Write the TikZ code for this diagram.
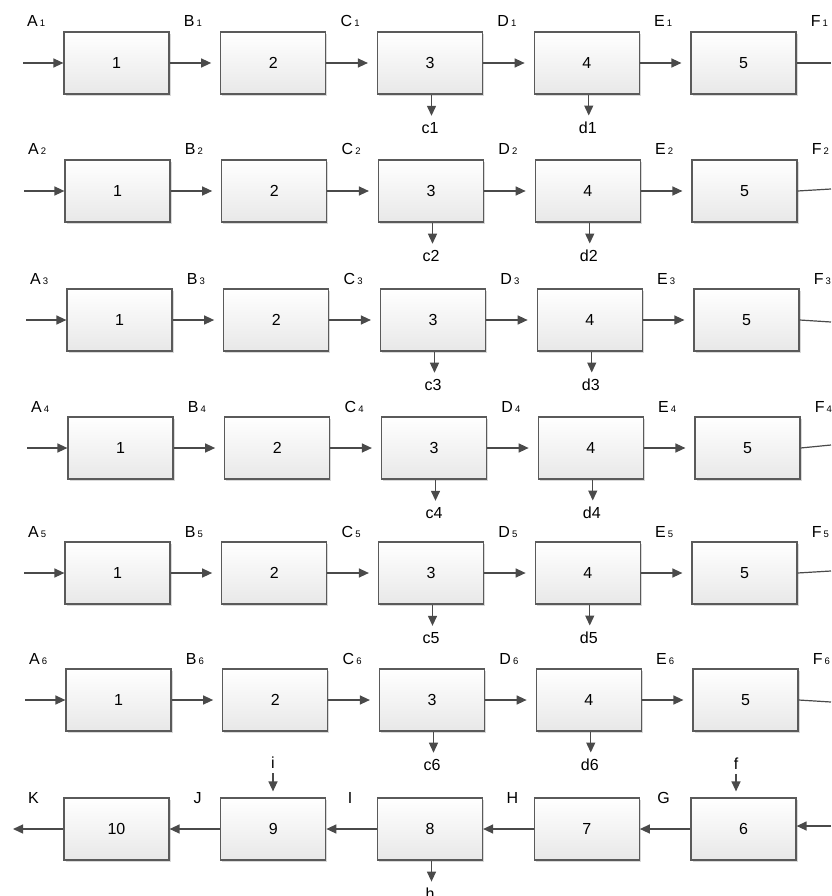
\documentclass[tikz,border=0pt]{standalone}
\usepackage{fontspec}
\setmainfont{Liberation Sans}
\usetikzlibrary{arrows.meta,shadows,calc}
\definecolor{edge}{HTML}{5A5A5A}
\definecolor{wire}{HTML}{4A4A4A}
\definecolor{boxbot}{HTML}{E8E8E8}
\tikzset{
  blk/.style={draw=edge, line width=1.2pt, rectangle, minimum width=105pt,
    minimum height=62pt, inner sep=0pt, top color=white, bottom color=boxbot,
    drop shadow={shadow xshift=1.6pt, shadow yshift=-1.6pt, fill=black, opacity=0.15},
    font=\fontsize{16}{19}\selectfont},
  arr/.style={draw=wire, line width=1.3pt, -{Triangle[length=10pt,width=9pt]}},
  wireln/.style={draw=wire, line width=1.2pt},
  lab/.style={inner sep=0pt, font=\fontsize{16}{19}\selectfont},
  subn/.style={font=\fontsize{9.5}{11}\selectfont}
}
\newcommand{\sbn}[1]{{\fontsize{9.5}{11}\selectfont #1}}
\begin{document}
\begin{tikzpicture}[x=1pt,y=-1pt]
\useasboundingbox (0,0) rectangle (831,896);
\fill[white] (0,0) rectangle (831,896);
\foreach \rw/\yy/\oo/\dy in {1/63/0/0,2/191/1/-2,3/320/3/2,4/448/4/-3,5/573/1/-2,6/700/2/2}{
  \foreach \k in {1,...,5}{
    \pgfmathsetmacro\cx{64+\oo+(\k-1)*156.75+52.5}
    \node[blk] (b\rw\k) at (\cx,\yy) {\k};
  }
  \foreach \k/\L in {0/A,1/B,2/C,3/D,4/E,5/F}{
    \pgfmathsetmacro\lx{64+\oo+\k*156.75-37}
    \node[lab, anchor=base west] (l\rw\L) at (\lx,\yy-36) {\L\hspace{2pt}\sbn{\rw}};
  }
  \coordinate (in\rw) at (23+\oo,\yy);
  \draw[arr] (in\rw) -- (b\rw1.west);
  \draw[arr, shorten >=9pt] (b\rw1.east) -- (b\rw2.west);
  \draw[arr, shorten >=9pt] (b\rw2.east) -- (b\rw3.west);
  \draw[arr, shorten >=9pt] (b\rw3.east) -- (b\rw4.west);
  \draw[arr, shorten >=9pt] (b\rw4.east) -- (b\rw5.west);
  \coordinate (out\rw) at (831,\yy+\dy);
  \draw[wireln] (b\rw5.east) -- (out\rw);
  \node[lab] (c\rw) at ($(b\rw3.south)+(0,33)$) {c\rw};
  \node[lab] (d\rw) at ($(b\rw4.south)+(1,33)$) {d\rw};
  \draw[arr, shorten >=6pt] ([xshift=1.5pt]b\rw3.south) -- ([xshift=1.5pt]b\rw3.south |- c\rw.north);
  \draw[arr, shorten >=6pt] ([xshift=2pt]b\rw4.south) -- ([xshift=2pt]b\rw4.south |- d\rw.north);
}
% bottom row
\foreach \k/\t in {1/10,2/9,3/8,4/7,5/6}{
  \pgfmathsetmacro\cx{64+(\k-1)*156.75+52.5}
  \node[blk] (n\t) at (\cx,829) {\t};
}
\draw[arr] (n6.west) -- (n7.east);
\draw[arr] (n7.west) -- (n8.east);
\draw[arr] (n8.west) -- (n9.east);
\draw[arr] (n9.west) -- (n10.east);
\coordinate (inR) at (831,826);
\draw[arr] (inR) -- (inR -| n6.east);
\coordinate (outK) at (13,829);
\draw[arr] (n10.west) -- (outK);
\node[lab] (K) at (33.5,798) {K};
\node[lab] (J) at (197.5,798) {J};
\node[lab] (I) at (350,798) {I};
\node[lab] (H) at (512.5,798) {H};
\node[lab] (G) at (663.5,798) {G};
\node[lab] (i) at (273,763) {i};
\node[lab] (f) at (736,764) {f};
\draw[arr, shorten <=4pt, shorten >=6pt] (i.south) -- (i.south |- n9.north);
\draw[arr, shorten <=4pt, shorten >=6pt] (f.south) -- (f.south |- n6.north);
\node[lab] (h) at ($(n8.south)+(0,33)$) {h};
\draw[arr, shorten >=6pt] ([xshift=1.5pt]n8.south) -- ([xshift=1.5pt]n8.south |- h.north);
\end{tikzpicture}
\end{document}
